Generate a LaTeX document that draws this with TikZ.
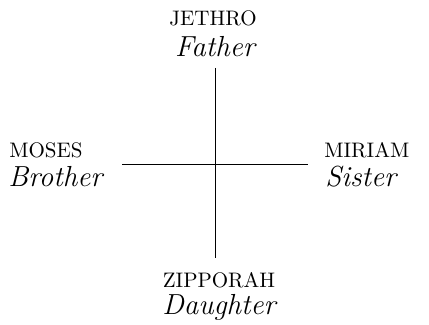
\documentclass[tikz,border=0pt]{standalone}
\usepackage{fontspec}
\tikzset{
  namelabel/.style={anchor=base, inner sep=0pt, font=\fontsize{10.5}{12}\selectfont\addfontfeature{LetterSpace=4}},
  rolelabel/.style={anchor=base, inner sep=0pt, font=\fontsize{14.5}{17}\selectfont\itshape},
}
\begin{document}
\begin{tikzpicture}[x=0.5pt, y=-0.5pt]
    \useasboundingbox (0,0) rectangle (429,325);
    % top
    \node[namelabel] (jethro) at (213,26) {JETHRO};
    \node[rolelabel] (father) at (215,57) {Father};
    % left
    \node[namelabel, anchor=base west] (moses) at (9,158) {MOSES};
    \node[rolelabel, anchor=base west] (brother) at (8,187) {Brother};
    % right
    \node[namelabel, anchor=base west] (miriam) at (324,158) {MIRIAM};
    \node[rolelabel, anchor=base west] (sister) at (325,187) {Sister};
    % bottom
    \node[namelabel] (zipporah) at (219,288) {ZIPPORAH};
    \node[rolelabel] (daughter) at (219,315) {Daughter};
    % cross
    \coordinate (up) at (215,68);
    \coordinate (down) at (215,258);
    \coordinate (west) at (122,165);
    \coordinate (east) at (308,165);
    \draw[line width=0.5pt] (up) -- (down);
    \draw[line width=0.5pt] (west) -- (east);
\end{tikzpicture}
\end{document}
